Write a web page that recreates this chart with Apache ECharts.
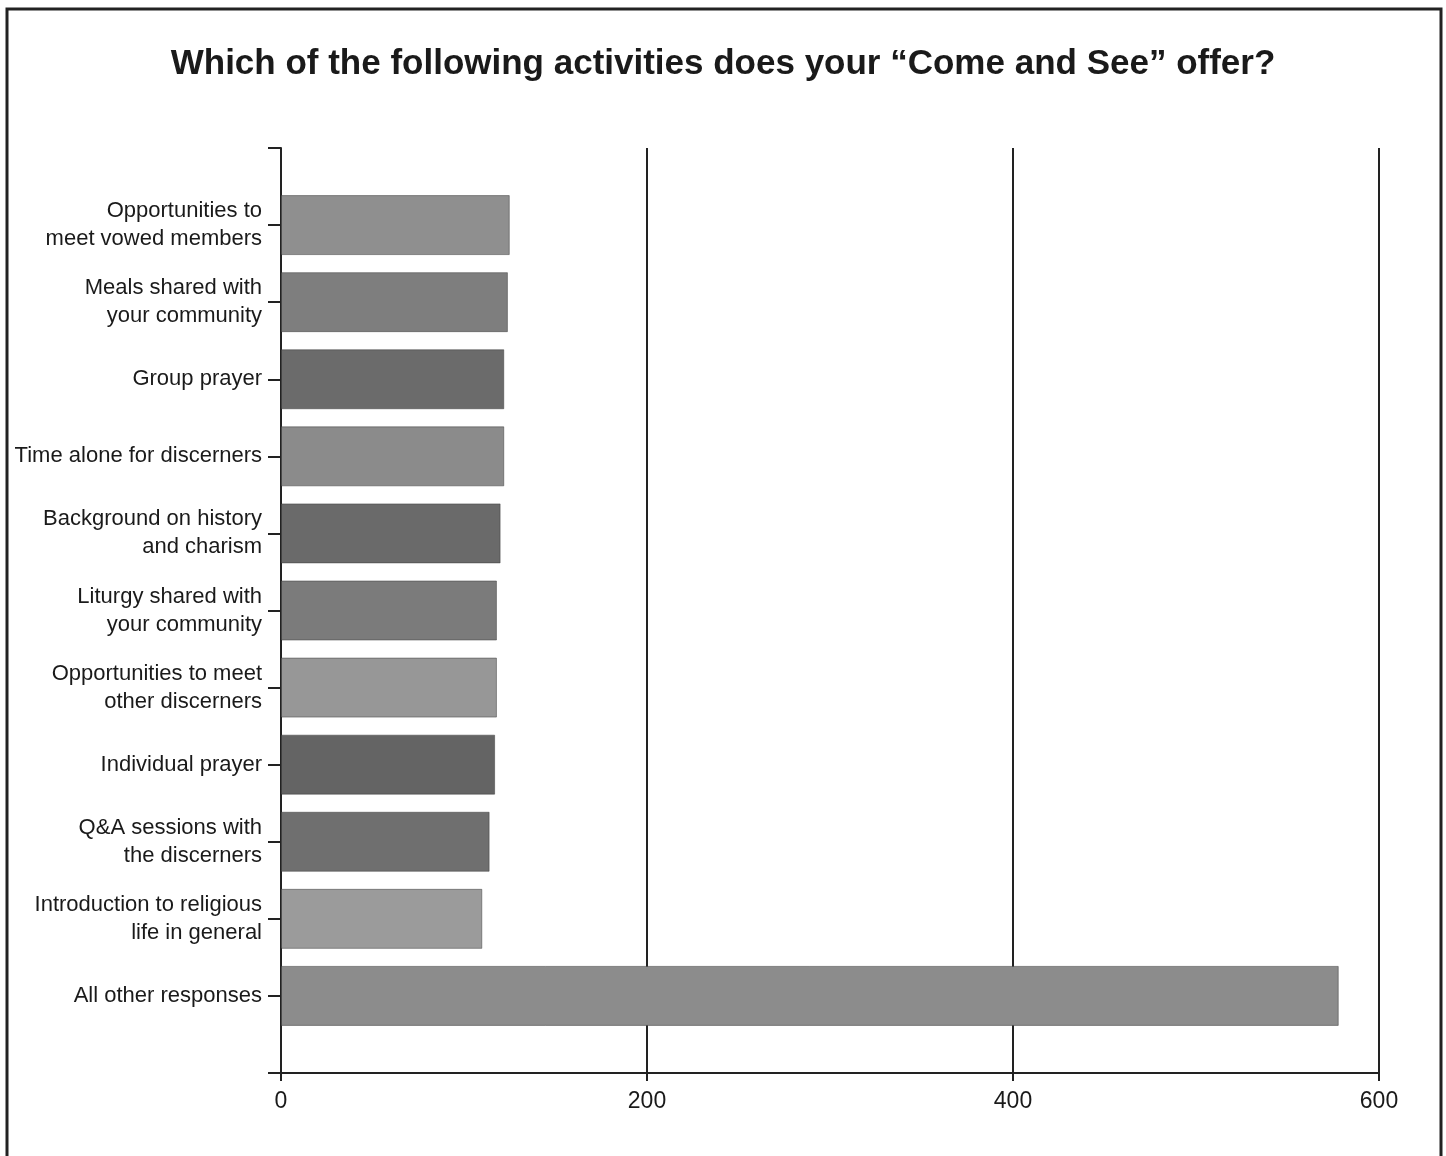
<!DOCTYPE html>
<html>
<head>
<meta charset="utf-8">
<script src="https://cdn.jsdelivr.net/npm/echarts@6/dist/echarts.min.js"></script>
<style>
html,body{margin:0;padding:0;background:#fff;}
#chart{width:1446px;height:1156px;}
</style>
</head>
<body>
<div id="chart"></div>
<script>
var categories = [
  '',
  'Opportunities to\nmeet vowed members',
  'Meals shared with\nyour community',
  'Group prayer',
  'Time alone for discerners',
  'Background on history\nand charism',
  'Liturgy shared with\nyour community',
  'Opportunities to meet\nother discerners',
  'Individual prayer',
  'Q&A sessions with\nthe discerners',
  'Introduction to religious\nlife in general',
  'All other responses',
  ''
];
var values = [null, 125, 124, 122, 122, 120, 118, 118, 117, 114, 110, 578, null];
var barColors = [null, '#8f8f8f', '#7e7e7e', '#6b6b6b', '#8b8b8b', '#6a6a6a', '#7b7b7b', '#979797', '#646464', '#6f6f6f', '#9b9b9b', '#8c8c8c', null];
var xTicks = [0, 200, 400, 600];
var titleText = 'Which of the following activities does your \u201CCome and See\u201D offer?';

var labelFont = '"Liberation Sans Narrow", "Arial Narrow", "Liberation Sans", Arial, sans-serif';

var chart = echarts.init(document.getElementById('chart'), null, {renderer: 'canvas'});
var data = values.map(function (v, i) {
  if (v === null) return null;
  return {value: v, itemStyle: {color: barColors[i]}};
});
chart.setOption({
  backgroundColor: '#ffffff',
  animation: false,
  title: {
    text: titleText,
    left: 'center',
    top: 42,
    textStyle: {
      fontFamily: '"Liberation Sans", Arial, sans-serif',
      fontWeight: 'bold',
      fontSize: 35,
      color: '#1a1a1a'
    }
  },
  graphic: [{
    type: 'rect',
    shape: {x: 7, y: 9, width: 1434, height: 1170},
    style: {fill: 'none', stroke: '#222', lineWidth: 3},
    silent: true
  }],
  grid: {left: 281, right: 67, top: 148, bottom: 83, containLabel: false},
  xAxis: {
    type: 'value',
    min: 0,
    max: 600,
    interval: 200,
    axisLine: {show: true, lineStyle: {color: '#222', width: 2}},
    axisTick: {show: true, length: 8, lineStyle: {color: '#222', width: 2}},
    axisLabel: {
      margin: 17,
      fontFamily: labelFont,
      fontSize: 23,
      color: '#1a1a1a',
      formatter: function (v) { return xTicks.indexOf(v) >= 0 ? String(v) : ''; }
    },
    splitLine: {show: true, lineStyle: {color: '#222', width: 2}}
  },
  yAxis: {
    type: 'category',
    data: categories,
    inverse: true,
    boundaryGap: false,
    axisLine: {show: true, onZero: false, lineStyle: {color: '#222', width: 2}},
    axisTick: {show: true, length: 13, lineStyle: {color: '#222', width: 2}},
    axisLabel: {
      margin: 19,
      interval: 0,
      fontFamily: labelFont,
      fontSize: 22,
      lineHeight: 28,
      color: '#1a1a1a',
      align: 'right'
    }
  },
  series: [{
    type: 'bar',
    data: data,
    barWidth: 60,
    itemStyle: {borderColor: 'rgba(60,60,60,0.5)', borderWidth: 1}
  }]
});
</script>
</body>
</html>
